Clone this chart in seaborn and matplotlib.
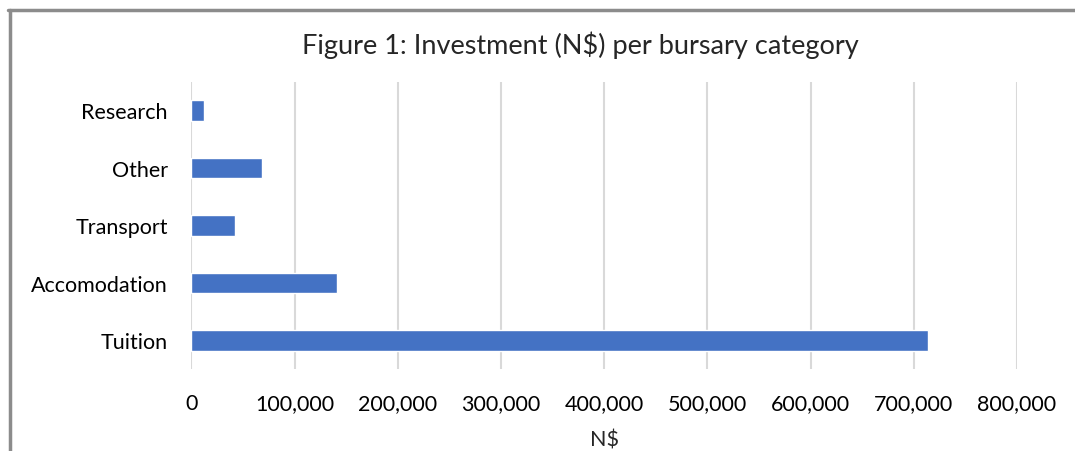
import pandas as pd
import matplotlib.pyplot as plt
import seaborn as sns
from matplotlib.lines import Line2D
from matplotlib.ticker import FuncFormatter

# values (N$)
categories = ['Research', 'Other', 'Transport', 'Accomodation', 'Tuition']
investment = [12000, 68500, 42500, 141000, 713500]

df = pd.DataFrame({'category': categories, 'investment': investment})

sns.set_style('white')
plt.rcParams['font.family'] = ['Lato', 'DejaVu Sans']

fig = plt.figure(figsize=(10.75, 4.52), dpi=100)
ax = fig.add_axes([0.178, 0.181, 0.768, 0.636])

sns.barplot(data=df, x='investment', y='category', color='#4472C4',
            width=0.35, saturation=1, ax=ax, zorder=3)

ax.set_xlim(0, 800000)
ax.set_xticks(range(0, 800001, 100000))
ax.xaxis.set_major_formatter(FuncFormatter(lambda v, p: f'{int(v):,}'))
ax.grid(axis='x', color='#d9d9d9', linewidth=1.5, zorder=0)
ax.set_axisbelow(True)
for s in ax.spines.values():
    s.set_visible(False)
ax.tick_params(axis='both', length=0, labelsize=15.5, colors='black')
ax.tick_params(axis='x', pad=17)
ax.tick_params(axis='y', pad=17)
ax.set_ylabel('')
ax.set_xlabel('N$', fontsize=15.5, labelpad=12)
fig.text(0.54, 0.9, 'Figure 1: Investment (N$) per bursary category',
         ha='center', va='center', fontsize=19.5)

# grey frame along top and left edges
fig.add_artist(Line2D([8 / 1075, 1], [1 - 11 / 452] * 2, color='#8c8c8c',
                      linewidth=2.5, transform=fig.transFigure))
fig.add_artist(Line2D([10 / 1075] * 2, [0, 1 - 11 / 452], color='#8c8c8c',
                      linewidth=2.5, transform=fig.transFigure))

fig.savefig('out.png', dpi=100)
